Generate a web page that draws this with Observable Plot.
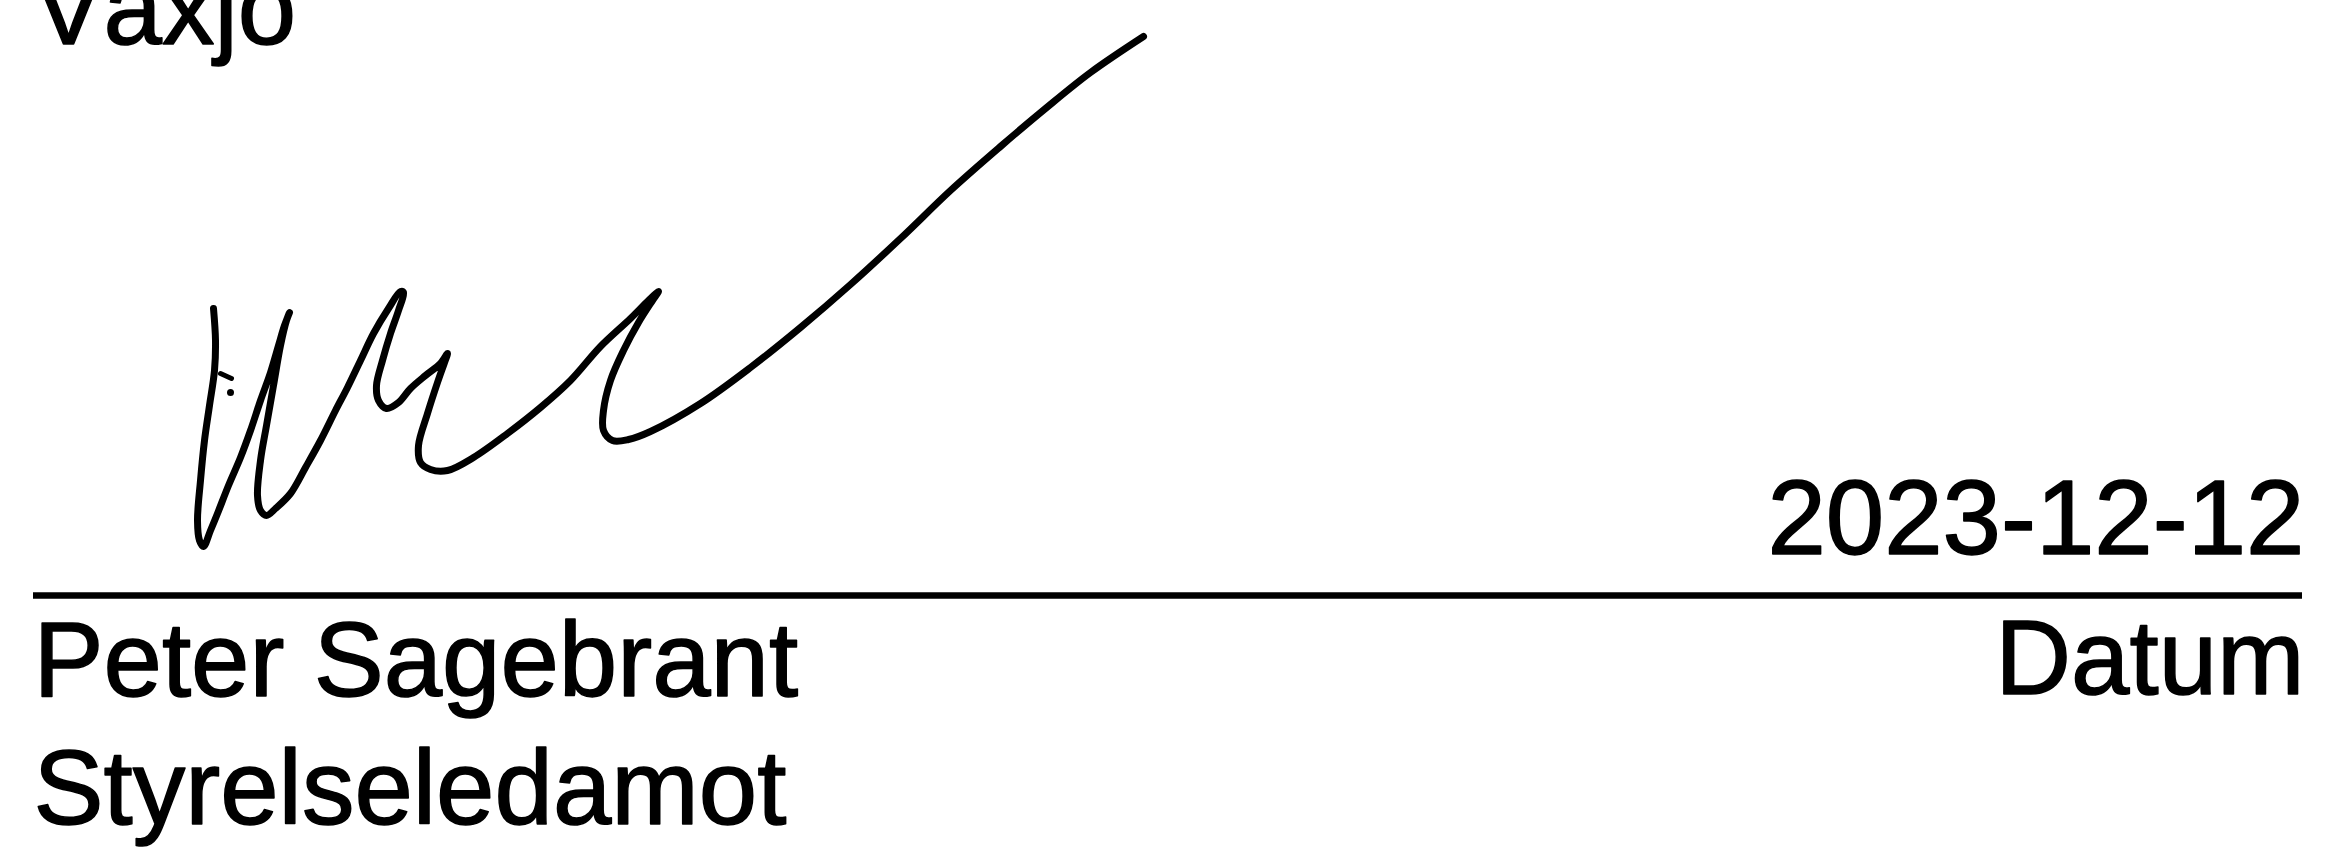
<!DOCTYPE html>
<html>
<head>
<meta charset="utf-8">
<script src="https://cdn.jsdelivr.net/npm/d3@7"></script>
<script src="https://cdn.jsdelivr.net/npm/@observablehq/plot@0.6"></script>
<style>
  html, body { margin: 0; padding: 0; background: #ffffff; }
  #chart svg { display: block; }
</style>
</head>
<body>
<div id="chart"></div>
<script>
// Signature stroke (pen path, page pixel units)
const sigX = [213,215,214,209,204,200,197,199,203,210,217,228,240,250,260,270,278,284,289,
  286,280,273,266,260,257,260,266,275,290,305,320,335,347,360,373,388,400,403,398,390,382,376,
  378,386,398,410,425,440,447,444,437,427,418,420,430,447,473,507,540,570,600,630,648,658,
  652,638,623,610,603,603,612,628,650,700,750,800,850,900,950,1000,1045,1090,1143];
const sigY = [308,340,370,405,440,480,520,540,546,530,513,485,457,430,400,372,345,325,312,
  320,345,385,425,460,495,510,515,508,493,467,440,410,387,360,333,308,291,292,310,333,360,385,
  400,408,402,388,375,363,353,362,382,413,445,462,469,470,457,433,407,380,346,318,300,291,
  300,322,350,380,410,430,440,439,431,403,367,327,284,238,190,146,108,72,36];
// small tick and dot beside the first stroke
const tickX = [220, 231];
const tickY = [373, 378];
const dotX = [230];
const dotY = [392];

// Printed text
const texts   = ["Växjö", "2023-12-12", "Peter Sagebrant", "Datum", "Styrelseledamot"];
const textX   = [33, 2304, 33, 2304, 33];
const textY   = [43, 553, 695, 693, 823];
const anchors = ["start", "end", "start", "end", "start"];

// Signature line (rule)
const ruleX1 = [33];
const ruleX2 = [2302];
const ruleYv = [595];

const sig = sigX.map((x, i) => ({x, y: sigY[i]}));
const tick = tickX.map((x, i) => ({x, y: tickY[i]}));
const dots = dotX.map((x, i) => ({x, y: dotY[i]}));
const labels = texts.map((t, i) => ({t, x: textX[i], y: textY[i], a: anchors[i]}));
const rules = ruleYv.map((y, i) => ({x1: ruleX1[i], x2: ruleX2[i], y}));

const W = 2329, H = 851;
const chart = Plot.plot({
  width: W,
  height: H,
  margin: 0,
  x: {domain: [0, W], axis: null},
  y: {domain: [H, 0], axis: null},
  style: {background: "#ffffff", fontFamily: "'Liberation Sans', Arial, sans-serif"},
  marks: [
    Plot.ruleY(rules, {y: "y", x1: "x1", x2: "x2", stroke: "#000", strokeWidth: 6.5}),
    Plot.line(sig, {x: "x", y: "y", stroke: "#000", strokeWidth: 7, curve: "catmull-rom",
      strokeLinejoin: "round", strokeLinecap: "round"}),
    Plot.line(tick, {x: "x", y: "y", stroke: "#000", strokeWidth: 5, strokeLinecap: "round"}),
    Plot.dot(dots, {x: "x", y: "y", r: 3.5, fill: "#000", stroke: null}),
    Plot.text(labels.filter(d => d.a === "start"), {x: "x", y: "y", text: "t", textAnchor: "start",
      lineAnchor: "bottom", fontSize: 105, fill: "#000", stroke: "#000", strokeWidth: 1.5}),
    Plot.text(labels.filter(d => d.a === "end"), {x: "x", y: "y", text: "t", textAnchor: "end",
      lineAnchor: "bottom", fontSize: 105, fill: "#000", stroke: "#000", strokeWidth: 1.5})
  ]
});
document.getElementById("chart").appendChild(chart);
</script>
</body>
</html>
